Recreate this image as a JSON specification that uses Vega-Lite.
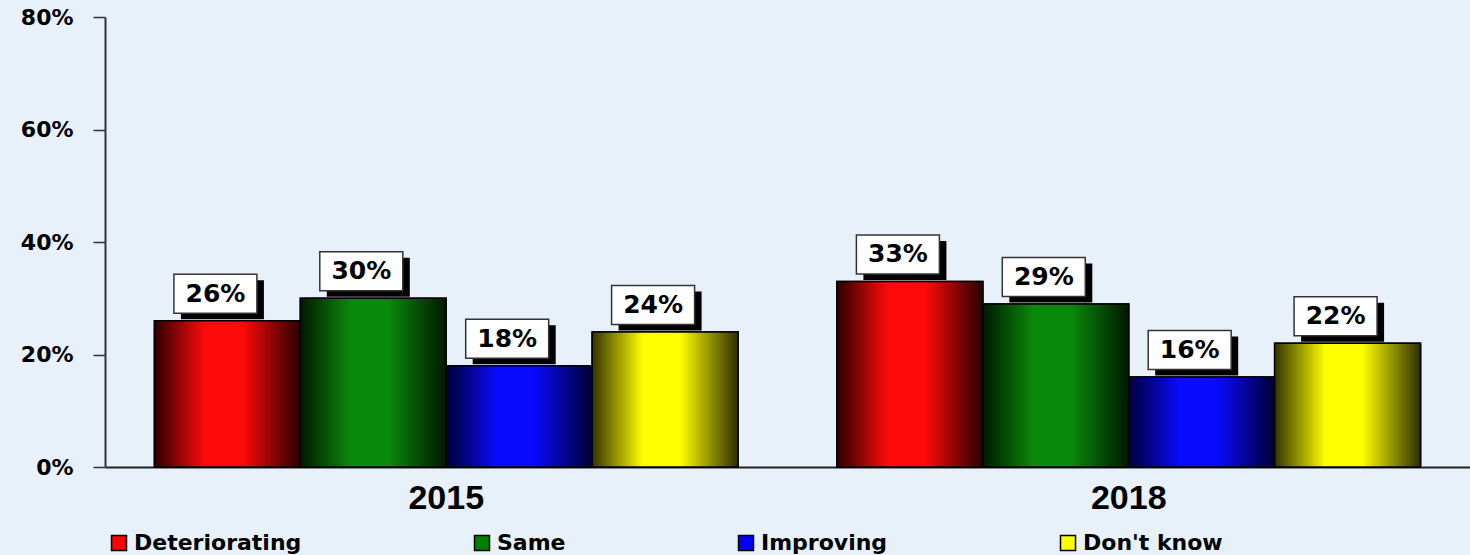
{
  "$schema": "https://vega.github.io/schema/vega-lite/v6.json",
  "description": "Grouped bar chart of perceived trend, 2015 vs 2018",
  "width": 1365,
  "height": 450,
  "autosize": {"type": "none"},
  "padding": {"left": 105, "top": 17, "right": 0, "bottom": 88},
  "background": "#e8f0f9",
  "config": {
    "view": {"stroke": null},
    "font": "DejaVu Sans",
    "legend": {
      "orient": "none",
      "legendX": 3,
      "legendY": 515,
      "direction": "horizontal",
      "columns": 4,
      "columnPadding": 169,
      "symbolType": "square",
      "symbolSize": 225,
      "symbolStrokeColor": "black",
      "symbolStrokeWidth": 1.5,
      "symbolOpacity": 1,
      "labelFont": "DejaVu Sans",
      "labelFontWeight": "bold",
      "labelFontSize": 22,
      "labelLimit": 300,
      "labelColor": "black",
      "labelOffset": 4,
      "title": null
    }
  },
  "data": {
    "values": [
      {"Year": "2015", "Response": "Deteriorating", "Share": 0.26},
      {"Year": "2015", "Response": "Same", "Share": 0.30},
      {"Year": "2015", "Response": "Improving", "Share": 0.18},
      {"Year": "2015", "Response": "Don't know", "Share": 0.24},
      {"Year": "2018", "Response": "Deteriorating", "Share": 0.33},
      {"Year": "2018", "Response": "Same", "Share": 0.29},
      {"Year": "2018", "Response": "Improving", "Share": 0.16},
      {"Year": "2018", "Response": "Don't know", "Share": 0.22}
    ]
  },
  "encoding": {
    "x": {
      "field": "Year",
      "type": "nominal",
      "scale": {"paddingInner": 0, "paddingOuter": 0},
      "axis": {
        "title": null,
        "labelAngle": 0,
        "ticks": false,
        "domainColor": "#222",
        "domainWidth": 2,
        "labelFont": "Liberation Sans",
        "labelFontWeight": "bold",
        "labelFontSize": 34,
        "labelColor": "black",
        "labelPadding": 14
      }
    },
    "xOffset": {
      "field": "Response",
      "type": "nominal",
      "sort": ["Deteriorating", "Same", "Improving", "Don't know"],
      "scale": {"paddingInner": 0, "paddingOuter": 0.339}
    },
    "y": {
      "field": "Share",
      "type": "quantitative",
      "scale": {"domain": [0, 0.8]},
      "axis": {
        "values": [0, 0.2, 0.4, 0.6, 0.8],
        "format": ".0%",
        "title": null,
        "grid": false,
        "domainColor": "#333",
        "domainWidth": 2,
        "tickColor": "#333",
        "tickWidth": 1.5,
        "tickSize": 12,
        "labelFont": "DejaVu Sans",
        "labelFontWeight": "bold",
        "labelFontSize": 22,
        "labelColor": "black",
        "labelPadding": 20
      }
    }
  },
  "layer": [
    {
      "mark": {"type": "bar", "stroke": "black", "strokeWidth": 1.5},
      "encoding": {
        "color": {
          "field": "Response",
          "type": "nominal",
          "sort": ["Deteriorating", "Same", "Improving", "Don't know"],
          "scale": {
            "domain": ["Deteriorating", "Same", "Improving", "Don't know"],
            "range": ["#ff0000", "#008000", "#0000ff", "#ffff00"]
          }
        }
      }
    },
    {
      "mark": {"type": "bar", "stroke": "black", "strokeWidth": 1.5},
      "encoding": {
        "fill": {
          "condition": [
            {
              "test": "datum.Response === 'Deteriorating'",
              "value": {
                "gradient": "linear", "x1": 0, "x2": 1, "y1": 0, "y2": 0,
                "stops": [
                  {"offset": 0, "color": "#2e0000"},
                  {"offset": 0.35, "color": "#ff0a0a"},
                  {"offset": 0.6, "color": "#ff0a0a"},
                  {"offset": 1, "color": "#2a0000"}
                ]
              }
            },
            {
              "test": "datum.Response === 'Same'",
              "value": {
                "gradient": "linear", "x1": 0, "x2": 1, "y1": 0, "y2": 0,
                "stops": [
                  {"offset": 0, "color": "#001a00"},
                  {"offset": 0.35, "color": "#0a8a0a"},
                  {"offset": 0.6, "color": "#0a8a0a"},
                  {"offset": 1, "color": "#001800"}
                ]
              }
            },
            {
              "test": "datum.Response === 'Improving'",
              "value": {
                "gradient": "linear", "x1": 0, "x2": 1, "y1": 0, "y2": 0,
                "stops": [
                  {"offset": 0, "color": "#00003a"},
                  {"offset": 0.35, "color": "#0a0aff"},
                  {"offset": 0.6, "color": "#0a0aff"},
                  {"offset": 1, "color": "#000034"}
                ]
              }
            }
          ],
          "value": {
            "gradient": "linear", "x1": 0, "x2": 1, "y1": 0, "y2": 0,
            "stops": [
              {"offset": 0, "color": "#333300"},
              {"offset": 0.35, "color": "#ffff00"},
              {"offset": 0.6, "color": "#ffff00"},
              {"offset": 1, "color": "#2e2e00"}
            ]
          }
        }
      }
    },
    {
      "mark": {
        "type": "point",
        "shape": "M-0.93,-0.81H0.73V-0.03H-0.93Z",
        "size": 10000,
        "filled": true,
        "fill": "black",
        "strokeWidth": 0,
        "opacity": 1
      }
    },
    {
      "mark": {
        "type": "point",
        "shape": "M-1.07,-0.93H0.59V-0.15H-1.07Z",
        "size": 10000,
        "filled": true,
        "fill": "white",
        "stroke": "#333",
        "strokeWidth": 1.5,
        "opacity": 1
      }
    },
    {
      "mark": {
        "type": "text",
        "dx": -12,
        "dy": -27,
        "align": "center",
        "baseline": "middle",
        "font": "DejaVu Sans",
        "fontWeight": "bold",
        "fontSize": 25,
        "color": "black"
      },
      "encoding": {
        "text": {"field": "Share", "type": "quantitative", "format": ".0%"}
      }
    }
  ]
}
